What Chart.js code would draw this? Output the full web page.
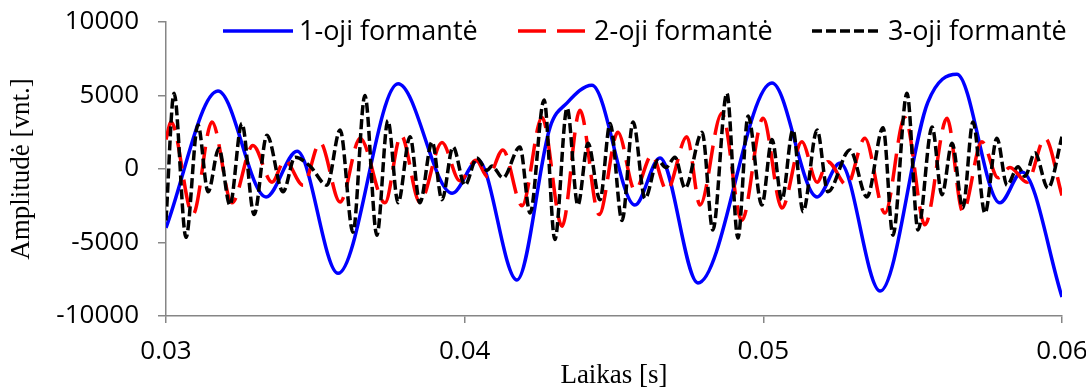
<!DOCTYPE html>
<html>
<head>
<meta charset="utf-8">
<script src="https://cdn.jsdelivr.net/npm/chart.js@4.4.1/dist/chart.umd.min.js"></script>
<style>
    html, body { margin: 0; padding: 0; background: #fff; }
</style>
</head>
<body>
<canvas id="myChart" width="1086" height="388"></canvas>
<script>
const seriesLabels = ['1-oji formantė', '2-oji formantė', '3-oji formantė'];
const xTicks = [0.03, 0.04, 0.05, 0.06];
const yTicks = [-10000, -5000, 0, 5000, 10000];

// 1-oji formante (extrema)
const formant1Time = [0.03000, 0.03174, 0.03335, 0.03439, 0.03576, 0.03777, 0.03958, 0.04045, 0.04175, 0.04286, 0.04343, 0.04426,
    0.04570, 0.04654, 0.04781, 0.05029, 0.05180, 0.05257, 0.05391, 0.05551, 0.05648, 0.05792, 0.05866, 0.06000];
const formant1Amp = [-4000, 5300, -1900, 1200, -7100, 5800, -1650, 600, -7550, 2850, 4500, 5700,
    -2450, 750, -7750, 5850, -1900, 400, -8300, 4550, 6450, -2300, -200, -8700];

// 2-oji formante
const formant2Time = [0.03000, 0.03017, 0.03090, 0.03154, 0.03221, 0.03291, 0.03355, 0.03398, 0.03459, 0.03516,
    0.03583, 0.03650, 0.03733, 0.03787, 0.03850, 0.03924, 0.03984, 0.04038, 0.04078, 0.04128,
    0.04192, 0.04259, 0.04326, 0.04386, 0.04450, 0.04513, 0.04570, 0.04627, 0.04677, 0.04744,
    0.04788, 0.04861, 0.04928, 0.04999, 0.05062, 0.05129, 0.05180, 0.05216, 0.05280, 0.05340,
    0.05407, 0.05474, 0.05541, 0.05615, 0.05668, 0.05732, 0.05786, 0.05826, 0.05883, 0.05943, 0.06000];
const formant2Amp = [2000, 3200, -3100, 3200, -2300, 1600, -900, 600, -1100, 1800,
    -2250, 2100, -2300, 2300, -2250, 1800, -800, 600, -550, 1300,
    -2500, 3500, -3900, 4000, -3100, 2500, -1450, 950, -1450, 2200,
    -2450, 3800, -3500, 3450, -2650, 1850, -900, 500, -1100, 2100,
    -3000, 3500, -3800, 3450, -2900, 1850, -600, 100, -900, 2100, -1800];

// 3-oji formante
const formant3Time = [0.03000, 0.03027, 0.03067, 0.03107, 0.03141, 0.03177, 0.03214, 0.03254, 0.03295, 0.03338,
    0.03392, 0.03432, 0.03482, 0.03539, 0.03583, 0.03626, 0.03666, 0.03706, 0.03743, 0.03777,
    0.03817, 0.03850, 0.03891, 0.03924, 0.03961, 0.04001, 0.04041, 0.04075, 0.04091, 0.04128,
    0.04185, 0.04219, 0.04266, 0.04302, 0.04343, 0.04379, 0.04413, 0.04453, 0.04487, 0.04527,
    0.04564, 0.04604, 0.04647, 0.04674, 0.04704, 0.04738, 0.04795, 0.04831, 0.04878, 0.04915,
    0.04949, 0.04995, 0.05029, 0.05062, 0.05099, 0.05133, 0.05180, 0.05216, 0.05290, 0.05347,
    0.05401, 0.05434, 0.05481, 0.05518, 0.05565, 0.05598, 0.05632, 0.05668, 0.05702, 0.05742,
    0.05782, 0.05816, 0.05853, 0.05876, 0.05909, 0.05953, 0.06000];
const formant3Amp = [-3500, 5150, -4650, 3000, -1550, 1400, -2450, 3100, -3100, 2300,
    -1550, 800, 200, -1100, 2650, -4300, 5000, -4500, 3300, -2300,
    2200, -2300, 1850, -2100, 1500, -1100, 750, -100, 200, -600,
    1500, -3000, 4700, -4800, 4150, -2450, 1750, -2100, 3100, -3500,
    3200, -2000, 600, 100, 800, -1300, 2500, -4150, 5150, -4700,
    3600, -2450, 2000, -2100, 2650, -2900, 2650, -1550, 1300, -1900,
    2800, -4500, 5150, -4150, 2850, -1750, 1750, -2650, 3200, -3000,
    2100, -1100, 150, -500, 1100, -1300, 2200];

function toPoints(times, amps) {
    return times.map(function (t, i) { return { x: t, y: amps[i] }; });
}

const axisGray = '#868686';
const legendStartX = [223, 518, 812];

// legend drawn over the top of the plot, like the original
const lineLegend = {
    id: 'lineLegend',
    afterDraw(chart) {
        const ctx = chart.ctx;
        ctx.save();
        ctx.font = '27px "Open Sans"';
        ctx.textBaseline = 'alphabetic';
        ctx.textAlign = 'left';
        chart.data.datasets.forEach(function (ds, i) {
            const x = legendStartX[i];
            ctx.strokeStyle = ds.borderColor;
            ctx.lineWidth = ds.borderWidth;
            ctx.lineCap = 'butt';
            ctx.setLineDash(ds.borderDash || []);
            ctx.beginPath();
            ctx.moveTo(x, 31);
            ctx.lineTo(x + 70, 31);
            ctx.stroke();
            ctx.setLineDash([]);
            ctx.fillStyle = '#000';
            ctx.fillText(ds.label, x + 76, 40);
        });
        ctx.restore();
    }
};

const data = {
    datasets: [{
        label: seriesLabels[0],
        data: toPoints(formant1Time, formant1Amp),
        borderColor: '#0000ff',
        borderWidth: 3.5,
        order: 3
    }, {
        label: seriesLabels[1],
        data: toPoints(formant2Time, formant2Amp),
        borderColor: '#ff0000',
        borderWidth: 3.5,
        borderDash: [28, 11],
        order: 2
    }, {
        label: seriesLabels[2],
        data: toPoints(formant3Time, formant3Amp),
        borderColor: '#000000',
        borderWidth: 3.5,
        borderDash: [10, 4],
        order: 1
    }]
};

const config = {
    type: 'line',
    data: data,
    options: {
        responsive: false,
        animation: false,
        layout: { padding: { top: 22, right: 24, bottom: 0, left: 0 } },
        elements: {
            point: { radius: 0 },
            line: { tension: 0.4, cubicInterpolationMode: 'monotone', fill: false }
        },
        plugins: {
            legend: { display: false },
            tooltip: { enabled: false }
        },
        scales: {
            x: {
                type: 'linear',
                min: xTicks[0],
                max: xTicks[xTicks.length - 1],
                afterBuildTicks: function (axis) { axis.ticks = xTicks.map(function (v) { return { value: v }; }); },
                afterFit: function (axis) { axis.height = 72; axis.paddingLeft = 0; axis.paddingRight = 0; },
                border: { display: true, color: axisGray, width: 1.5 },
                grid: { drawOnChartArea: false, drawTicks: true, tickLength: 7, color: axisGray, lineWidth: 1.5 },
                ticks: {
                    padding: 13,
                    color: '#000',
                    font: { family: '"Open Sans"', size: 26 },
                    maxRotation: 0,
                    callback: function (v) { return v.toFixed(2); }
                },
                title: {
                    display: true,
                    text: 'Laikas [s]',
                    color: '#000',
                    font: { family: '"Liberation Serif"', size: 27, lineHeight: 0.9 },
                    padding: { top: 0, bottom: 0 }
                }
            },
            y: {
                min: yTicks[0],
                max: yTicks[yTicks.length - 1],
                afterBuildTicks: function (axis) { axis.ticks = yTicks.map(function (v) { return { value: v }; }); },
                afterFit: function (axis) { axis.width = 166; axis.paddingTop = 0; axis.paddingBottom = 0; },
                border: { display: true, color: axisGray, width: 1.5 },
                grid: { drawOnChartArea: false, drawTicks: true, tickLength: 8, color: axisGray, lineWidth: 1.5 },
                ticks: {
                    padding: 19,
                    color: '#000',
                    font: { family: '"Open Sans"', size: 26 },
                    callback: function (v) { return String(v); }
                },
                title: {
                    display: true,
                    text: 'Amplitudė [vnt.]',
                    color: '#000',
                    font: { family: '"Liberation Serif"', size: 27, lineHeight: 1.2 },
                    padding: { top: 6, bottom: 0 }
                }
            }
        }
    },
    plugins: [lineLegend]
};

const myChart = new Chart(document.getElementById('myChart'), config);
</script>
</body>
</html>
